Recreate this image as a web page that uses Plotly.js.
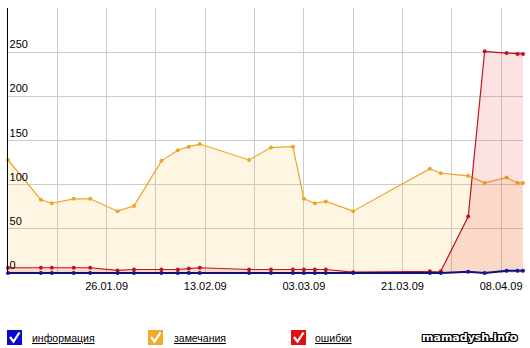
<!DOCTYPE html>
<html><head><meta charset="utf-8">
<script src="https://cdn.plot.ly/plotly-3.0.1.min.js"></script>
<style>html,body{margin:0;padding:0;background:#fff;}#chart{width:530px;height:348px;}</style>
</head><body><div id="chart"></div>
<script>
// ---- data ----
const dates = ['2009-01-08','2009-01-14','2009-01-16','2009-01-20','2009-01-23','2009-01-28','2009-01-31',
  '2009-02-05','2009-02-08','2009-02-10','2009-02-12','2009-02-21','2009-02-25','2009-03-01','2009-03-03',
  '2009-03-05','2009-03-07','2009-03-12','2009-03-26','2009-03-28','2009-04-02','2009-04-05','2009-04-09',
  '2009-04-11','2009-04-12'];
const infoValues    = [0,0,0,0,0,0,0,0,0,0,0,0,0,0,0,0,0,0,0,0,1.5,0,2.6,2.6,2.6];
const warningValues = [128,83,79,84,84,70,76,127,139,143,146,128,142,143,84,79,81,70,118,113,110,102,108,102,102];
const errorValues   = [6,6,6,6,6,3,4,4,4,5,6,4,4,4,4,4,4,1,2,2,64,251,249,248,248];
const xTickVals = ['2009-01-17','2009-01-26','2009-02-04','2009-02-13','2009-02-22','2009-03-03','2009-03-12','2009-03-21','2009-03-30','2009-04-08'];
const xTickText = ['','26.01.09','','13.02.09','','03.03.09','','21.03.09','','08.04.09'];
const yTickVals = [0,50,100,150,200,250,300];
const yTickText = ['0','50','100','150','200','250',''];
const legendLabels = ['информация','замечания','ошибки'];
const watermark = 'mamadysh.info';

// ---- geometry helpers (pixel -> paper) ----
const W = 530, H = 348, ML = 8, MR = 7, MT = 8, MB = 74;
const PW = W - ML - MR, PH = H - MT - MB;
const px = x => (x - ML) / PW;
const py = y => (H - MB - y) / PH;

const colors = {blue:'#10107a', orange:'#eba628', red:'#c0141e'};
const boxColors = ['#0a0acc','#f5a82a','#dd1111'];

const traces = [
  {x: dates, y: warningValues, type:'scatter', mode:'lines+markers', line:{color:colors.orange,width:1.2},
   marker:{size:4,color:colors.orange}, fill:'tozeroy', fillcolor:'rgba(250,175,40,0.13)', cliponaxis:false, hoverinfo:'none'},
  {x: dates, y: errorValues, type:'scatter', mode:'lines+markers', line:{color:colors.red,width:1.2},
   marker:{size:4,color:colors.red}, fill:'tozeroy', fillcolor:'rgba(230,30,30,0.13)', cliponaxis:false, hoverinfo:'none'},
  {x: dates, y: infoValues, type:'scatter', mode:'lines+markers', line:{color:colors.blue,width:2},
   marker:{size:4,color:'#1515a0'}, cliponaxis:false, hoverinfo:'none'}
];

const shapes = [], annotations = [];
const boxX = [7,148,291], textX = [30,172,313];
for (let i = 0; i < 3; i++) {
  const x0 = boxX[i], y0 = 330;
  shapes.push({type:'rect', xref:'paper', yref:'paper', x0:px(x0), x1:px(x0+15), y0:py(y0+15), y1:py(y0),
    fillcolor:boxColors[i], line:{width:0}});
  shapes.push({type:'path', xref:'paper', yref:'paper',
    path:`M ${px(x0+3)} ${py(y0+7)} L ${px(x0+6.5)} ${py(y0+11.5)} L ${px(x0+12.5)} ${py(y0+2.5)}`,
    line:{color:'#ffffff', width:2.2}});
  annotations.push({xref:'paper', yref:'paper', x:px(textX[i]), y:py(337.5), xanchor:'left', yanchor:'middle',
    text:legendLabels[i], showarrow:false, font:{family:'Arial, Liberation Sans', size:10.5, color:'#000', lineposition:'under'}});
}
annotations.push({xref:'paper', yref:'paper', x:px(520), y:py(337.5), xanchor:'right', yanchor:'middle',
  text:watermark, showarrow:false,
  font:{family:'DejaVu Sans', size:11, weight:'bold', color:'#ffffff',
        shadow:'1px 1px 0 #000, -1px -1px 0 #000, 1px -1px 0 #000, -1px 1px 0 #000, 1px 0 0 #000, -1px 0 0 #000, 0 1px 0 #000, 0 -1px 0 #000'}});

const layout = {
  width: W, height: H, margin:{l:ML, r:MR, t:MT, b:MB, pad:0},
  paper_bgcolor:'#fff', plot_bgcolor:'#fff', showlegend:false,
  font:{family:'Arial, Liberation Sans', size:11, color:'#000'},
  xaxis:{type:'date', range:['2009-01-08','2009-04-12'], tickvals:xTickVals, ticktext:xTickText,
    showgrid:true, gridcolor:'#cccccc', gridwidth:1, ticks:'', showline:false, zeroline:false,
    ticklabelstandoff:4, tickfont:{size:11, color:'#000'}, fixedrange:true},
  yaxis:{range:[-1.1,300], tickvals:yTickVals, ticktext:yTickText, showgrid:true, gridcolor:'#cccccc', gridwidth:1,
    ticks:'', showline:true, linecolor:'#000', linewidth:1.5, zeroline:false, ticklabelposition:'inside top',
    tickfont:{size:11, color:'#000'}, fixedrange:true},
  shapes: shapes, annotations: annotations
};
Plotly.newPlot('chart', traces, layout, {staticPlot:true, displayModeBar:false});
</script></body></html>
